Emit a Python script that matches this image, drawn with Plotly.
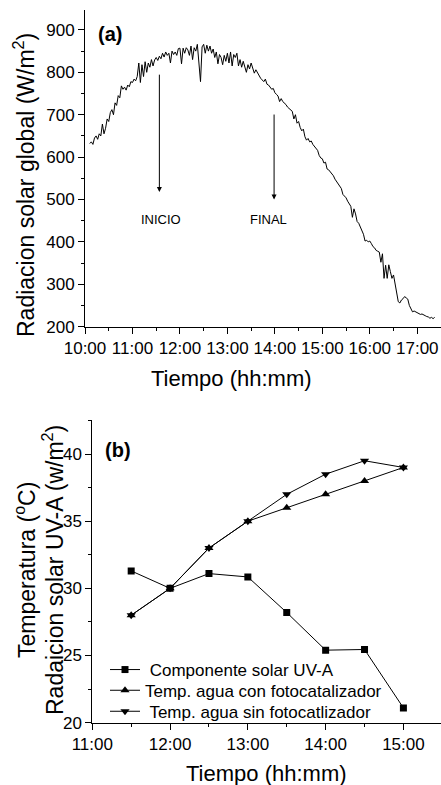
import plotly.graph_objects as go
import pandas as pd

# ---------------- Panel (a): global solar radiation ----------------
A_START = "2000-01-01 10:06"
A_STEP_MIN = 2
A_RAD = [
    632, 636, 630, 645, 650, 642, 655, 650, 678, 655,      # 10:06-10:24
    668, 690, 684, 705, 712, 700, 728, 722, 745, 740,      # 10:26-10:44
    768, 760, 765, 758, 770, 766, 778, 776, 784, 780,      # 10:46-11:04
    790, 822, 776, 818, 790, 825, 800, 822, 812, 830,      # 11:06-11:24
    815, 829, 835, 828, 838, 832, 845, 836, 848, 840,      # 11:26-11:44
    845, 822, 850, 842, 848, 840, 856, 857, 820, 857,      # 11:46-12:04
    845, 858, 853, 840, 862, 830, 858, 850, 866, 820,      # 12:06-12:24
    778, 860, 866, 845, 864, 850, 862, 845, 855, 835,      # 12:26-12:44
    848, 820, 842, 835, 818, 840, 826, 845, 822, 848,      # 12:46-13:04
    815, 842, 835, 845, 815, 830, 812, 826, 815, 800,      # 13:06-13:24
    818, 808, 822, 812, 798, 806, 798, 792, 786, 782,      # 13:26-13:44
    778, 784, 772, 770, 766, 760, 762, 752, 748, 744,      # 13:46-14:04
    731, 738, 731, 728, 724, 718, 714, 710, 708, 690,      # 14:06-14:24
    700, 680, 684, 670, 662, 666, 648, 640, 644, 636,      # 14:26-14:44
    638, 630, 626, 620, 616, 604, 598, 596, 586, 588,      # 14:46-15:04
    572, 570, 566, 560, 556, 548, 542, 536, 530, 526,      # 15:06-15:24
    512, 508, 504, 496, 490, 484, 458, 478, 466, 448,      # 15:26-15:44
    444, 436, 428, 418, 402, 404, 400, 402, 396, 389,      # 15:46-16:04
    386, 380, 378, 376, 352, 372, 314, 345, 314, 346,      # 16:06-16:24
    330, 314, 322, 300, 287, 259, 256, 263, 266, 271,      # 16:26-16:44
    268, 265, 250, 240, 235, 237, 235, 233, 232, 229,      # 16:46-17:04
    230, 227, 226, 224, 223, 220, 222, 219, 222,           # 17:06-17:22
]
A_TIMES = pd.date_range(A_START, periods=len(A_RAD), freq=f"{A_STEP_MIN}min")

# ---------------- Panel (b): temperatures and UV-A ----------------
B_TIMES = ["11:30", "12:00", "12:30", "13:00", "13:30", "14:00", "14:30", "15:00"]
B_UVA = [31.3, 30.0, 31.1, 30.85, 28.2, 25.4, 25.45, 21.1]
B_CON = [28.0, 30.0, 33.0, 35.0, 36.0, 37.0, 38.0, 39.0]
B_SIN = [28.0, 30.0, 33.0, 35.0, 37.0, 38.5, 39.5, 39.0]
B_NAMES = [" Componente solar UV-A",
           "Temp. agua con fotocatalizador",
           " Temp. agua sin fotocatlizador"]

DAY = "2000-01-01 "
bx = [DAY + t for t in B_TIMES]

W, H = 441, 785
FONT = "Liberation Sans, Arial, sans-serif"


def px(x):
    return x / W


def py(y):
    return 1 - y / H


fig = go.Figure()

fig.add_trace(go.Scatter(x=A_TIMES, y=A_RAD, mode="lines",
                         line=dict(color="black", width=1),
                         showlegend=False, xaxis="x", yaxis="y"))

sym = ["square", "triangle-up", "triangle-down"]
sizes = [7, 8, 8]
legs = ["legend", "legend2", "legend3"]
for vals, name, s, sz, lg in zip([B_UVA, B_CON, B_SIN], B_NAMES, sym, sizes, legs):
    fig.add_trace(go.Scatter(x=bx, y=vals, mode="lines+markers", name=name,
                             line=dict(color="black", width=1),
                             marker=dict(symbol=s, size=sz, color="black"),
                             xaxis="x2", yaxis="y2", legend=lg))

# ranges
A_XR = [DAY + "10:00", DAY + "17:30"]
A_YR = [200, 947]
B_XR = [DAY + "11:00", DAY + "15:29"]
B_YR = [20, 42.57]

A_XD = [px(85), 1]
A_YD = [py(326.7), py(10)]
B_XD = [px(92.3), 1]
B_YD = [py(722.7), py(419.5)]

HOUR = 3600000
tickfont = dict(family=FONT, size=17, color="black")

common = dict(showline=True, linecolor="black", linewidth=1, showgrid=False,
              zeroline=False, tickcolor="black", tickwidth=1,
              automargin=False, ticklabeloverflow="allow")

legfont = dict(family=FONT, size=17, color="black")


def leg(ycen):
    return dict(x=px(105), y=py(ycen), xanchor="left", yanchor="middle",
                bgcolor="rgba(0,0,0,0)", borderwidth=0, font=legfont)


fig.update_layout(
    width=W, height=H,
    margin=dict(l=0, r=0, t=0, b=0, autoexpand=False),
    paper_bgcolor="white", plot_bgcolor="white",
    font=dict(family=FONT, color="black"),
    xaxis=dict(domain=A_XD, range=A_XR, type="date", anchor="y",
               tickformat="%H:%M", dtick=HOUR, tick0=DAY + "10:00",
               ticks="outside", ticklen=6, tickfont=tickfont,
               minor=dict(dtick=HOUR / 2, ticks="outside", ticklen=3,
                          tickcolor="black"),
               **common),
    yaxis=dict(domain=A_YD, range=A_YR, anchor="x", dtick=100, tick0=200,
               ticks="outside", ticklen=6, tickfont=tickfont,
               minor=dict(dtick=50, ticks="outside", ticklen=3,
                          tickcolor="black"),
               **common),
    xaxis3=dict(overlaying="x", side="top", anchor="y", range=A_XR,
                type="date", dtick=HOUR, tick0=DAY + "10:00",
                ticks="inside", ticklen=6, showticklabels=False,
                minor=dict(dtick=HOUR / 2, ticks="inside", ticklen=3,
                           tickcolor="black"),
                **common),
    yaxis3=dict(overlaying="y", side="right", anchor="x", range=A_YR,
                dtick=100, tick0=200, ticks="inside", ticklen=6,
                showticklabels=False,
                minor=dict(dtick=50, ticks="inside", ticklen=3,
                           tickcolor="black"),
                **common),
    xaxis2=dict(domain=B_XD, range=B_XR, type="date", anchor="y2",
                tickformat="%H:%M", dtick=HOUR, tick0=DAY + "11:00",
                ticks="outside", ticklen=6, tickfont=tickfont,
                minor=dict(dtick=HOUR / 2, ticks="outside", ticklen=3,
                           tickcolor="black"),
                **common),
    yaxis2=dict(domain=B_YD, range=B_YR, anchor="x2", dtick=5, tick0=20,
                ticks="outside", ticklen=6, tickfont=tickfont,
                minor=dict(dtick=2.5, ticks="outside", ticklen=3,
                           tickcolor="black"),
                **common),
    xaxis4=dict(overlaying="x2", side="top", anchor="y2", range=B_XR,
                type="date", dtick=HOUR, tick0=DAY + "11:00",
                ticks="inside", ticklen=6, showticklabels=False,
                minor=dict(dtick=HOUR / 2, ticks="inside", ticklen=3,
                           tickcolor="black"),
                **common),
    yaxis4=dict(overlaying="y2", side="right", anchor="x2", range=B_YR,
                dtick=5, tick0=20, ticks="inside", ticklen=6,
                showticklabels=False,
                minor=dict(dtick=2.5, ticks="inside", ticklen=3,
                           tickcolor="black"),
                **common),
    legend=leg(670),
    legend2=leg(690.7),
    legend3=leg(711.7),
)

C = dict(xref="paper", yref="paper", xanchor="center", yanchor="middle",
         showarrow=False)
ann = []
# axis titles
ann.append(dict(text="Tiempo (hh:mm)", x=px(231.5), y=py(378),
                font=dict(size=22), **C))
ann.append(dict(text="Radiacion solar global (W/m<sup>2</sup>)", x=px(24),
                y=py(185), textangle=-90, font=dict(size=23), **C))
ann.append(dict(text="Tiempo (hh:mm)", x=px(266.7), y=py(773),
                font=dict(size=22), **C))
ann.append(dict(text="Temperatura (<sup>o</sup>C)", x=px(25), y=py(570),
                textangle=-90, font=dict(size=23), **C))
ann.append(dict(text="Radaicion solar UV-A (w/m<sup>2</sup>)", x=px(53),
                y=py(570), textangle=-90, font=dict(size=23), **C))
# panel labels
ann.append(dict(text="<b>(a)</b>", x=px(96), y=py(34), xref="paper",
                yref="paper", xanchor="left", yanchor="middle",
                showarrow=False, font=dict(size=20)))
ann.append(dict(text="<b>(b)</b>", x=px(103), y=py(450), xref="paper",
                yref="paper", xanchor="left", yanchor="middle",
                showarrow=False, font=dict(size=20)))
# arrows and labels in panel (a)
ann.append(dict(x=DAY + "11:34", y=518, ax=DAY + "11:34", ay=798,
                xref="x", yref="y", axref="x", ayref="y", text="",
                showarrow=True, arrowhead=2, arrowsize=1, arrowwidth=1,
                arrowcolor="black"))
ann.append(dict(x=DAY + "13:59", y=500, ax=DAY + "13:59", ay=704,
                xref="x", yref="y", axref="x", ayref="y", text="",
                showarrow=True, arrowhead=2, arrowsize=1, arrowwidth=1,
                arrowcolor="black"))
ann.append(dict(text="INICIO", x=DAY + "11:36", y=454, xref="x", yref="y",
                xanchor="center", yanchor="middle",
                showarrow=False, font=dict(size=13)))
ann.append(dict(text="FINAL", x=DAY + "13:52", y=454, xref="x", yref="y",
                xanchor="center", yanchor="middle",
                showarrow=False, font=dict(size=13)))
fig.update_layout(annotations=ann)

fig.write_html(
    "out.html",
    config={"displayModeBar": False},
    post_script="document.body.style.margin='0';"
                "document.body.style.padding='0';"
                "document.body.style.overflow='hidden';",
)
